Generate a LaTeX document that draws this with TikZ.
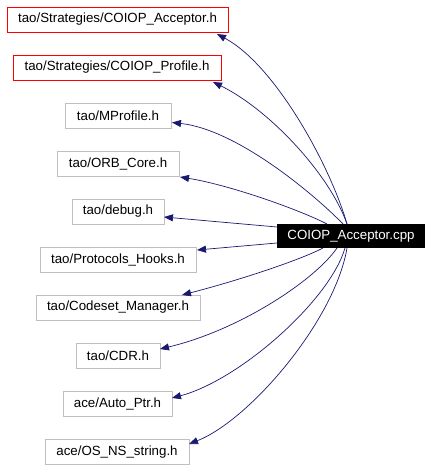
\documentclass[tikz,border=0pt]{standalone}
\usepackage{fontspec}
\setmainfont{Liberation Sans}
\usetikzlibrary{arrows.meta,calc}
\definecolor{edgecol}{HTML}{191970}
\definecolor{boxgray}{HTML}{BFBFBF}
\begin{document}
\begin{tikzpicture}[x=1pt,y=-1pt,
  every node/.style={inner sep=0pt,outer sep=0pt,font=\fontsize{13.3}{16}\selectfont},
  hdr/.style={draw=boxgray,line width=0.8pt,minimum height=25pt,fill=white},
  redhdr/.style={draw=red,line width=0.8pt,minimum height=25pt,fill=white},
  mainbox/.style={fill=black,text=white,minimum height=24pt,minimum width=148pt},
  dep/.style={draw=edgecol,line width=0.7pt,-{Triangle[length=9pt,width=7pt]}}]
\useasboundingbox (0,0) rectangle (432,469);
\node[redhdr,minimum width=221pt] (t1) at (117.5,19.5) {tao/Strategies/COIOP\_Acceptor.h};
\node[redhdr,minimum width=208pt] (t2) at (117,67.5) {tao/Strategies/COIOP\_Profile.h};
\node[hdr,minimum width=106pt] (t3) at (118,115.5) {tao/MProfile.h};
\node[hdr,minimum width=122pt] (t4) at (118,163.5) {tao/ORB\_Core.h};
\node[hdr,minimum width=92pt] (t5) at (118,211.5) {tao/debug.h};
\node[hdr,minimum width=156pt] (t6) at (118,259.5) {tao/Protocols\_Hooks.h};
\node[hdr,minimum width=164pt] (t7) at (118,307.5) {tao/Codeset\_Manager.h};
\node[hdr,minimum width=84pt] (t8) at (118,355.5) {tao/CDR.h};
\node[hdr,minimum width=109pt] (t9) at (117.5,403.5) {ace/Auto\_Ptr.h};
\node[hdr,minimum width=144pt] (t10) at (117,452) {ace/OS\_NS\_string.h};
\node[mainbox] (m) at (351,236) {COIOP\_Acceptor.cpp};
% edges
\draw[dep] ($(m.north)+(-4,0)$) .. controls (330,165) and (275,65) .. ($(t1.south east)+(-11,2)$);
\draw[dep] ($(m.north)+(-4,0)$) .. controls (330,175) and (270,110) .. ($(t2.south east)+(-8,2)$);
\draw[dep] ($(m.north)+(-8,0)$) .. controls (320,200) and (240,130) .. ($(t3.east)+(1,7)$);
\draw[dep] ($(m.north)+(-24,0)$) .. controls (300,210) and (230,185) .. ($(t4.south east)+(1,1)$);
\draw[dep] ($(m.west)+(0,-9)$) -- ($(t5.east)+(0,5.5)$);
\draw[dep] ($(m.west)+(0,7)$) -- ($(t6.east)+(1,-9.5)$);
\draw[dep] ($(m.south)+(-28,0)$) .. controls (300,260) and (240,280) .. ($(t7.north east)+(-18,0)$);
\draw[dep] ($(m.south)+(-14,0)$) .. controls (315,280) and (240,330) .. ($(t8.east)+(0,-6.5)$);
\draw[dep] ($(m.south)+(-6,0)$) .. controls (330,300) and (240,380) .. ($(t9.east)+(0,-5.5)$);
\draw[dep] ($(m.south)+(-4,0)$) .. controls (335,320) and (250,420) .. ($(t10.east)+(0,-8)$);
\end{tikzpicture}
\end{document}
